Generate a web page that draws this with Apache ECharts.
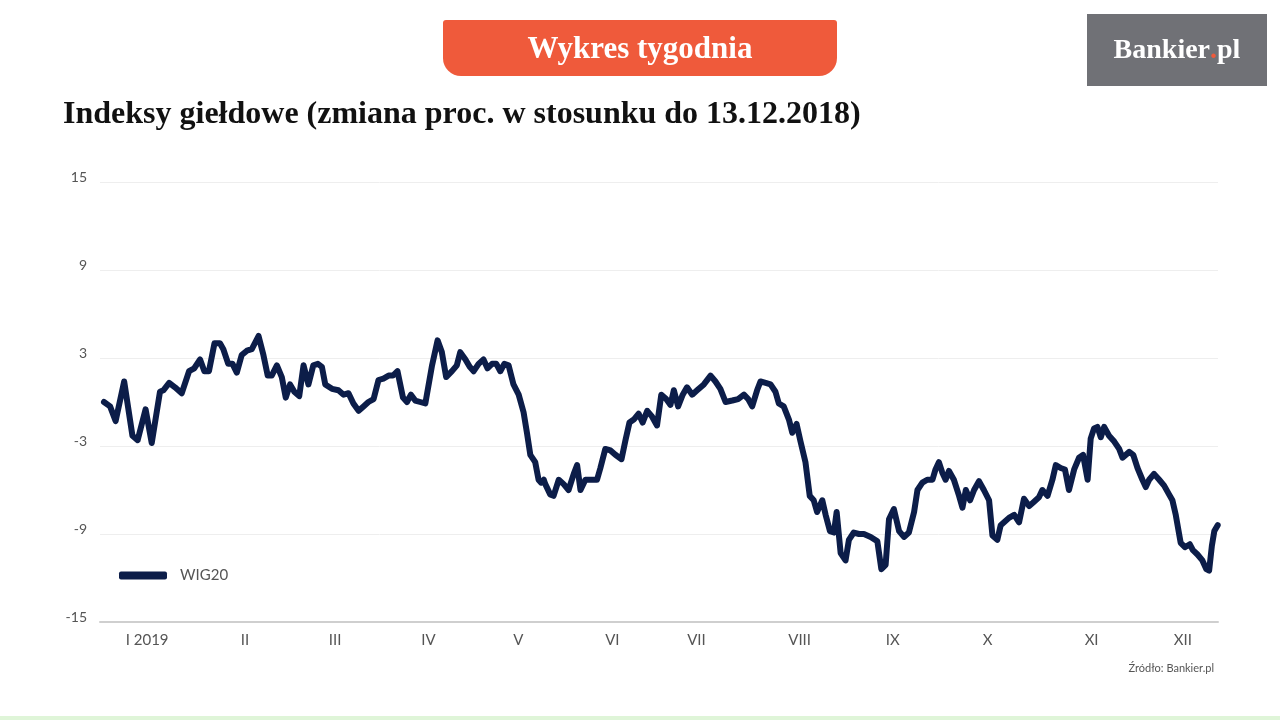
<!DOCTYPE html>
<html>
<head>
<meta charset="utf-8">
<script src="https://cdn.jsdelivr.net/npm/echarts@6/dist/echarts.min.js"></script>
<style>
  html, body { margin: 0; padding: 0; background: #fff; }
  #chart { width: 1280px; height: 720px; }
</style>
</head>
<body>
<div id="chart"></div>
<script>
// x = days since 13.12.2018, y = % change of WIG20
const days = [
  0, 2.0, 3.8, 6.6, 9.3, 11.0, 13.6, 15.6, 18.3, 19.4, 21.3, 23.2, 25.4, 27.8, 29.5, 31.4, 32.8, 34.3,
  36.1, 37.9, 39.0, 40.6, 42.0, 43.4, 45.0, 46.7, 48.3, 50.5, 52.1, 53.5, 54.8, 56.5, 58.1, 59.4,
  60.8, 62.2, 63.8, 65.2, 66.8, 68.4, 69.9, 71.2, 72.3, 74.5, 76.6, 78.3, 79.9, 81.5, 83.2, 84.8,
  86.4, 88.1, 89.7, 91.3, 93.0, 94.4, 95.9, 97.7, 99.0, 100.3, 101.7, 103.3, 105.0, 107.2, 109.0,
  110.4, 111.8, 113.7, 115.3, 116.4, 118.1, 119.5, 120.8, 122.4, 124.0, 125.3, 126.8, 128.2, 129.5,
  130.8, 132.2, 133.8, 135.5, 137.1, 138.2, 139.3, 140.9, 142.0, 142.8, 143.7, 144.2, 145.8, 146.9,
  148.6, 150.2, 151.8, 153.5, 154.6, 155.7, 157.3, 159.5, 161.1, 162.2, 163.8, 165.5, 167.1, 169.1,
  170.4, 171.7, 173.1, 174.7, 176.0, 177.5, 179.1, 180.7, 182.1, 183.7, 185.1, 186.2, 187.6, 189.1,
  190.5, 192.2, 193.8, 196.0, 198.2, 199.8, 201.4, 203.1, 205.3, 207.2, 209.1, 210.5, 211.8, 213.4,
  214.5, 216.2, 217.8, 219.4, 220.5, 222.1, 223.8, 224.9, 226.3, 227.6, 229.2, 230.6, 231.9, 233.0,
  234.7, 235.8, 237.2, 238.5, 239.4, 240.7, 242.3, 243.4, 245.0, 246.7, 248.3, 250.5, 252.7, 254.0,
  255.4, 256.5, 258.1, 259.8, 261.4, 263.0, 264.7, 265.8, 267.4, 269.0, 270.7, 271.7, 272.8, 273.9,
  275.0, 276.1, 277.7, 279.4, 280.5, 281.6, 283.0, 284.3, 285.9, 287.5, 289.2, 290.3, 291.9, 293.0,
  294.1, 295.7, 297.4, 299.0, 300.6, 302.3, 303.9, 305.5, 306.6, 308.3, 309.9, 311.0, 312.6, 314.0,
  315.3, 317.0, 318.6, 319.9, 321.4, 322.4, 323.5, 324.6, 325.7, 326.8, 328.4, 330.1, 331.7, 332.8,
  335.0, 336.3, 337.7, 339.3, 340.4, 341.5, 343.1, 344.8, 346.4, 348.0, 349.1, 350.2, 351.8, 353.2,
  354.8, 355.8, 357.3, 358.9, 360.2, 361.1, 362.0, 362.8, 363.9
];
const wig20 = [
  0.0, -0.3, -1.3, 1.4, -2.3, -2.6, -0.5, -2.8, 0.7, 0.8, 1.3, 1.0, 0.6, 2.1, 2.3, 2.9, 2.1, 2.1,
  4.0, 4.0, 3.6, 2.6, 2.6, 2.0, 3.2, 3.5, 3.6, 4.5, 3.2, 1.8, 1.8, 2.5, 1.7, 0.3,
  1.2, 0.7, 0.4, 2.5, 1.2, 2.5, 2.6, 2.4, 1.2, 0.9, 0.8, 0.5, 0.6, -0.1, -0.6, -0.3,
  0.0, 0.2, 1.5, 1.6, 1.8, 1.8, 2.1, 0.3, 0.0, 0.5, 0.1, 0.0, -0.1, 2.5, 4.2,
  3.4, 1.7, 2.1, 2.5, 3.4, 2.9, 2.4, 2.1, 2.6, 2.9, 2.3, 2.6, 2.6, 2.1,
  2.6, 2.5, 1.2, 0.5, -0.7, -2.1, -3.6, -4.1, -5.3, -5.5, -5.3, -5.6, -6.3, -6.4,
  -5.3, -5.6, -6.0, -4.9, -4.3, -6.0, -5.3, -5.3, -5.3, -4.5, -3.2, -3.3, -3.6, -3.9,
  -2.6, -1.4, -1.2, -0.8, -1.4, -0.6, -1.0, -1.6, 0.5, 0.2, -0.2, 0.8, -0.3, 0.5,
  1.0, 0.5, 0.8, 1.2, 1.8, 1.4, 0.9, 0.0, 0.1, 0.2, 0.5, 0.2, -0.3, 0.8,
  1.4, 1.3, 1.2, 0.7, -0.1, -0.3, -1.2, -2.1, -1.5, -2.7, -4.1, -6.4, -6.7, -7.5,
  -6.7, -7.7, -8.8, -8.9, -7.5, -10.3, -10.8, -9.4, -8.9, -9.0, -9.0, -9.2, -9.5, -11.4,
  -11.1, -8.0, -7.3, -8.8, -9.2, -8.9, -7.5, -6.0, -5.5, -5.3, -5.3, -4.6, -4.1, -4.8,
  -5.3, -4.7, -5.3, -6.4, -7.2, -6.0, -6.7, -6.0, -5.4, -6.0, -6.7, -9.1, -9.4, -8.4,
  -8.2, -7.9, -7.7, -8.2, -6.6, -7.1, -6.8, -6.5, -6.0, -6.4, -5.3, -4.3, -4.5, -4.6,
  -6.0, -4.6, -3.8, -3.6, -5.3, -2.5, -1.8, -1.7, -2.4, -1.7, -2.3, -2.7, -3.2, -3.8,
  -3.4, -3.6, -4.5, -5.3, -5.8, -5.3, -4.9, -5.3, -5.7, -6.3, -6.7, -7.7, -9.6, -9.9,
  -9.7, -10.1, -10.4, -10.8, -11.4, -11.5, -9.8, -8.8, -8.4
];
const monthLabels = ['I 2019', 'II', 'III', 'IV', 'V', 'VI', 'VII', 'VIII', 'IX', 'X', 'XI', 'XII'];
const monthDays = [14.1, 46.1, 75.5, 106.0, 135.4, 166.1, 193.6, 227.3, 257.7, 288.7, 322.7, 352.5];
const yTicks = [-15, -9, -3, 3, 9, 15];

const chart = echarts.init(document.getElementById('chart'));

chart.setOption({
  backgroundColor: '#fff',
  animation: false,
  graphic: [
    // orange banner
    {
      type: 'rect', left: 443, top: 20,
      shape: { width: 394, height: 56, r: [3, 3, 18, 18] },
      style: { fill: '#ef5a3b' }
    },
    {
      type: 'text', x: 640, y: 50,
      style: {
        text: 'Wykres tygodnia', fill: '#fff', align: 'center', verticalAlign: 'middle',
        font: 'bold 31px "Liberation Serif", serif'
      }
    },
    // logo box
    {
      type: 'rect', left: 1087, top: 14,
      shape: { width: 180, height: 72 },
      style: { fill: '#707176' }
    },
    {
      type: 'text', x: 1177, y: 51,
      style: {
        text: 'Bankier{d|.}pl', fill: '#fff', align: 'center', verticalAlign: 'middle',
        font: 'bold 28px "Liberation Serif", serif',
        rich: { d: { fill: '#ef5a3b', font: 'bold 28px "Liberation Serif", serif' } }
      }
    },
    // chart title
    {
      type: 'text', x: 63, y: 115,
      style: {
        text: 'Indeksy giełdowe (zmiana proc. w stosunku do 13.12.2018)', fill: '#111',
        verticalAlign: 'middle', font: 'bold 32px "Liberation Serif", serif'
      }
    },
    // source
    {
      type: 'text', x: 1214, y: 668,
      style: {
        text: 'Źródło: Bankier.pl', fill: '#555', align: 'right', verticalAlign: 'middle',
        font: '11px Lato, sans-serif'
      }
    },
    // faint green strip at bottom edge
    {
      type: 'rect', left: 0, top: 716,
      shape: { width: 1280, height: 4 },
      style: { fill: '#dff5d8' }
    }
  ],
  legend: {
    left: 114, top: 563,
    icon: 'roundRect',
    itemWidth: 48, itemHeight: 8,
    itemGap: 10,
    textStyle: { color: '#555', fontSize: 15, fontFamily: 'Lato', padding: [0, 0, 0, 8] },
    data: ['WIG20']
  },
  grid: { left: 100, right: 62, top: 182, bottom: 98 },
  xAxis: {
    type: 'value',
    min: -1.3, max: 364,
    axisLine: { show: true, onZero: false, lineStyle: { color: '#cfcfcf', width: 2 } },
    axisTick: { show: false },
    splitLine: { show: false },
    axisLabel: {
      customValues: monthDays,
      formatter: v => monthLabels[monthDays.indexOf(v)] || '',
      color: '#555', fontSize: 15, fontFamily: 'Lato', margin: 11
    }
  },
  yAxis: {
    type: 'value',
    min: -15, max: 15, interval: 6,
    axisLine: { show: false },
    axisTick: { show: false },
    splitLine: { lineStyle: { color: '#eeeeee', width: 1 } },
    axisLabel: {
      customValues: yTicks,
      color: '#555', fontSize: 14, fontFamily: 'Lato', margin: 13,
      verticalAlign: 'bottom', lineHeight: 10
    }
  },
  series: [{
    name: 'WIG20',
    type: 'line',
    data: days.map((d, i) => [d, wig20[i]]),
    showSymbol: false,
    lineStyle: { color: '#0c1d49', width: 6, join: 'round', cap: 'round' },
    itemStyle: { color: '#0c1d49' }
  }]
});
</script>
</body>
</html>
